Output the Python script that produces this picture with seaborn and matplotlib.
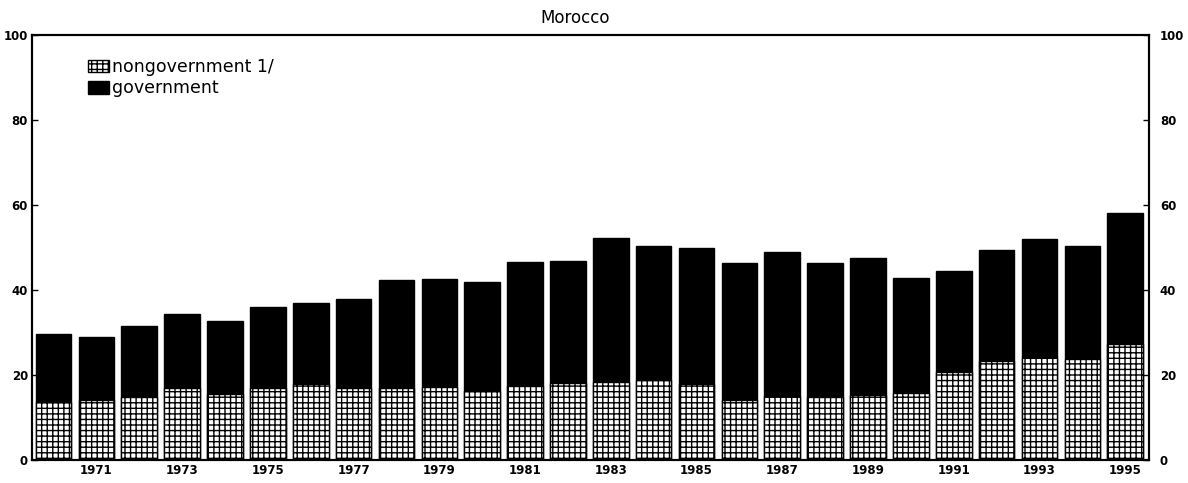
import numpy as np
import pandas as pd
import seaborn as sns
from matplotlib import pyplot as plt
from matplotlib.patches import Patch

# values (percent)
years = list(range(1970, 1996))
nongovernment = [13.7, 14.0, 14.9, 16.9, 15.6, 17.0, 17.9, 16.9, 16.8, 17.2,
                 16.1, 17.3, 18.0, 18.4, 18.7, 17.8, 14.0, 15.1, 14.8, 15.2,
                 15.8, 20.7, 23.3, 24.2, 23.8, 27.2]
government = [16.0, 14.8, 16.6, 17.4, 17.0, 18.9, 19.1, 21.0, 25.5, 25.4,
              25.8, 29.2, 28.7, 33.9, 31.6, 32.1, 32.3, 33.9, 31.5, 32.4,
              27.1, 23.8, 26.2, 27.8, 26.6, 30.8]
y_ticks = [0, 20, 40, 60, 80, 100]

df = pd.DataFrame({"year": years, "nongov": nongovernment, "gov": government})
df["total"] = df["nongov"] + df["gov"]

sns.set_style("white")
plt.rcParams["font.family"] = ["DejaVu Sans"]
plt.rcParams["text.color"] = "black"
plt.rcParams["xtick.color"] = "black"
plt.rcParams["ytick.color"] = "black"
plt.rcParams["hatch.linewidth"] = 1.0
plt.rcParams["hatch.color"] = "black"

fig = plt.figure(figsize=(11.88, 4.83), dpi=100)
ax = fig.add_axes([0.027, 0.048, 0.94, 0.8795])

sns.barplot(data=df, x="year", y="total", color="black", saturation=1,
            width=0.83, edgecolor="black", linewidth=1, ax=ax)
sns.barplot(data=df, x="year", y="nongov", color="white", saturation=1,
            width=0.83, edgecolor="black", linewidth=1, hatch="+++", ax=ax)

ax.set_xlim(-0.5, 25.55)
ax.set_ylim(0, 100)
ax.set_xlabel("")
ax.set_ylabel("")
ax.set_xticks(range(len(years)))
ax.set_xticklabels([str(y) if y % 2 == 1 else "" for y in years],
                   fontsize=8.5, fontweight="bold")
ax.set_yticks(y_ticks)
ax.set_yticklabels([str(t) for t in y_ticks], fontsize=8.5, fontweight="bold")
ax.tick_params(axis="both", direction="in", length=4, width=1, pad=3,
               color="black")
ax.tick_params(axis="x", length=3)

ax2 = ax.twinx()
ax2.set_ylim(0, 100)
ax2.set_yticks(y_ticks)
ax2.set_yticklabels([str(t) for t in y_ticks], fontsize=8.5, fontweight="bold")
ax2.tick_params(axis="y", direction="in", length=4, width=1, pad=8)

for a in (ax, ax2):
    for s in a.spines.values():
        s.set_visible(True)
        s.set_color("black")
        s.set_linewidth(1.5)

handles = [Patch(facecolor="white", edgecolor="black", hatch="+++"),
           Patch(facecolor="black", edgecolor="black")]
fig.legend(handles, ["nongovernment 1/", "government"],
           loc="upper left", bbox_to_anchor=(88 / 1188, 1 - 58 / 483),
           frameon=False, fontsize=12.5, handlelength=1.2, handleheight=0.75,
           handletextpad=0.2, labelspacing=0.2, borderpad=0, borderaxespad=0)

fig.text(575 / 1188, 1 - 18 / 483, "Morocco", ha="center", va="center",
         fontsize=12)

fig.savefig("out.png", dpi=100)
